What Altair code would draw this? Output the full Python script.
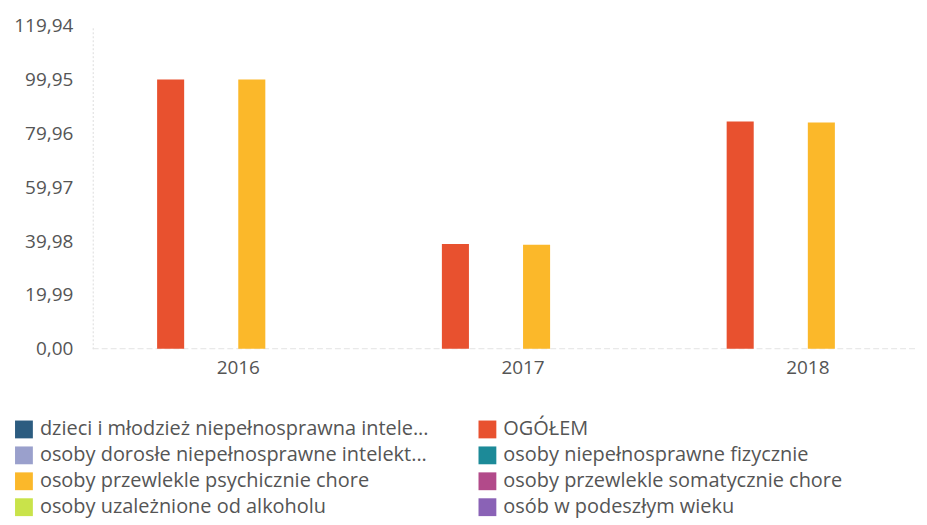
import altair as alt
import pandas as pd

years = ["2016", "2017", "2018"]
series = [
    "dzieci i młodzież niepełnosprawna intele...",
    "OGÓŁEM",
    "osoby dorosłe niepełnosprawne intelekt...",
    "osoby niepełnosprawne fizycznie",
    "osoby przewlekle psychicznie chore",
    "osoby przewlekle somatycznie chore",
    "osoby uzależnione od alkoholu",
    "osób w podeszłym wieku",
]
colors = ["#2c5c80", "#e8512f", "#9aa0cc", "#1c8a98", "#fbb82a", "#b24a8a", "#c9e34a", "#8a62b6"]
values = {
    "OGÓŁEM": [99.95, 38.9, 84.4],
    "osoby przewlekle psychicznie chore": [99.95, 38.6, 84.0],
}
y_ticks = [0, 19.99, 39.98, 59.97, 79.96, 99.95, 119.94]

# legend is laid out column by column: reorder so rows read like the reference
legend_order = [series[i] for i in [0, 2, 4, 6, 1, 3, 5, 7]]
legend_colors = [colors[i] for i in [0, 2, 4, 6, 1, 3, 5, 7]]

rows = []
for s in series:
    for i, yr in enumerate(years):
        rows.append({"rok": yr, "seria": s, "wartosc": values.get(s, [0, 0, 0])[i]})
df = pd.DataFrame(rows)

W = 828
H = 324
FONT = "Open Sans"

bars = alt.Chart(df).mark_bar().encode(
    x=alt.X("rok:N", sort=years, title=None,
            scale=alt.Scale(paddingInner=0.24, paddingOuter=0.069, align=0.95),
            axis=alt.Axis(labelAngle=0, domain=False, ticks=False, labelFontSize=19,
                          labelColor="#555555", labelPadding=10, labelFont=FONT)),
    xOffset=alt.XOffset("seria:N", sort=series, scale=alt.Scale(paddingInner=0, paddingOuter=0)),
    y=alt.Y("wartosc:Q", title=None,
            scale=alt.Scale(domain=[0, 119.94], nice=False),
            axis=alt.Axis(values=y_ticks, grid=False, ticks=False,
                          domainColor="#dddddd", domainDash=[2, 2],
                          labelExpr="replace(format(datum.value, '.2f'), '.', ',')",
                          labelFontSize=19, labelColor="#555555", labelPadding=20,
                          labelFont=FONT)),
    color=alt.Color("seria:N", sort=legend_order,
                    scale=alt.Scale(domain=legend_order, range=legend_colors),
                    legend=alt.Legend(title=None, orient="none", legendX=-79, legendY=395,
                                      columns=2, columnPadding=48, rowPadding=6,
                                      symbolType="square", symbolSize=320,
                                      symbolStrokeWidth=0, symbolOpacity=1,
                                      labelFontSize=20, labelColor="#555555",
                                      labelFont=FONT, labelOffset=6,
                                      labelLimit=600)),
)

base = alt.Chart(pd.DataFrame({"v": [0]})).mark_rule(color="#e4e4e4", strokeDash=[6, 3]).encode(
    x=alt.value(0), x2=alt.value(W), y=alt.value(H)
)

chart = alt.layer(base, bars).properties(
    width=W, height=H,
    padding={"left": 5, "top": 8, "right": 0, "bottom": 0},
).configure_view(stroke=None)

chart.save("out.html", embed_options={"renderer": "svg", "actions": False})
